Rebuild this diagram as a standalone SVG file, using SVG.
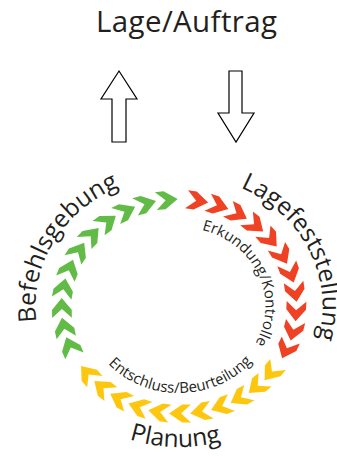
<svg xmlns="http://www.w3.org/2000/svg" width="337" height="457" viewBox="0 0 337 457">
<style>
.t{font-family:"Open Sans","Noto Sans","Liberation Sans",sans-serif;fill:#231f20}
.big{font-size:24.5px}
.small{font-size:15px}
.arr{fill:#fff;stroke:#000;stroke-width:1.2}
.g{fill:#62bb46}.r{fill:#ef4123}.y{fill:#fec70f}
</style>
<defs>
<polygon id="chev" points="9,-10 9,-2 0,10 -9,-2 -9,-10 0,-1"/>
<path id="pBef" d="M56.9,374.8 A143.5,131 0 0 1 174.7,175.1"/>
<path id="pLag" d="M193,175.6 A143.5,131 0 0 1 295.7,382.3"/>
<path id="pPlan" d="M77,411.6 A154,141 0 0 0 274.9,416.3"/>
<path id="pErk" d="M189.5,227.6 A86.5,79 0 0 1 248.1,353.5"/>
<path id="pEnt" d="M97.6,350.8 A95,87 0 0 0 262.1,348.2"/>
</defs>
<rect width="337" height="457" fill="#fff"/>
<g id="title"><text class="t" x="186.5" y="32" font-size="29.5" text-anchor="middle" textLength="181">Lage/Auftrag</text></g>
<g id="connectors">
<polygon class="arr" points="119,71 137,99 126,99 126,142 112,142 112,99 101,99"/>
<polygon class="arr" points="229,71 242,71 242,113 254,113 236,142 218,113 229,113"/>
</g>
<g id="befehlsgebung">
<g class="g" transform="translate(179,306.5) scale(1.095,1)">
<use href="#chev" transform="rotate(158) translate(107,0)"/>
<use href="#chev" transform="rotate(168.6) translate(107,0)"/>
<use href="#chev" transform="rotate(179.2) translate(107,0)"/>
<use href="#chev" transform="rotate(189.8) translate(107,0)"/>
<use href="#chev" transform="rotate(200.4) translate(107,0)"/>
<use href="#chev" transform="rotate(211) translate(107,0)"/>
<use href="#chev" transform="rotate(221.6) translate(107,0)"/>
<use href="#chev" transform="rotate(232.2) translate(107,0)"/>
<use href="#chev" transform="rotate(242.8) translate(107,0)"/>
<use href="#chev" transform="rotate(253.4) translate(107,0)"/>
<use href="#chev" transform="rotate(264) translate(107,0)"/>
</g>
<text class="t big"><textPath href="#pBef" startOffset="50%" text-anchor="middle">Befehlsgebung</textPath></text>
</g>
<g id="lagefeststellung">
<g class="r" transform="translate(179,306.5) scale(1.095,1)">
<use href="#chev" transform="rotate(279) translate(107,0)"/>
<use href="#chev" transform="rotate(289.45) translate(107,0)"/>
<use href="#chev" transform="rotate(299.9) translate(107,0)"/>
<use href="#chev" transform="rotate(310.35) translate(107,0)"/>
<use href="#chev" transform="rotate(320.8) translate(107,0)"/>
<use href="#chev" transform="rotate(331.25) translate(107,0)"/>
<use href="#chev" transform="rotate(341.7) translate(107,0)"/>
<use href="#chev" transform="rotate(352.15) translate(107,0)"/>
<use href="#chev" transform="rotate(362.6) translate(107,0)"/>
<use href="#chev" transform="rotate(373.05) translate(107,0)"/>
<use href="#chev" transform="rotate(383.5) translate(107,0)"/>
</g>
<text class="t big"><textPath href="#pLag" startOffset="50%" text-anchor="middle">Lagefeststellung</textPath></text>
<text class="t small"><textPath href="#pErk" startOffset="50%" text-anchor="middle">Erkundung/Kontrolle</textPath></text>
</g>
<g id="planung">
<g class="y" transform="translate(179,306.5) scale(1.095,1)">
<use href="#chev" transform="rotate(38) translate(107,0)"/>
<use href="#chev" transform="rotate(48.3) translate(107,0)"/>
<use href="#chev" transform="rotate(58.6) translate(107,0)"/>
<use href="#chev" transform="rotate(68.9) translate(107,0)"/>
<use href="#chev" transform="rotate(79.2) translate(107,0)"/>
<use href="#chev" transform="rotate(89.5) translate(107,0)"/>
<use href="#chev" transform="rotate(99.8) translate(107,0)"/>
<use href="#chev" transform="rotate(110.1) translate(107,0)"/>
<use href="#chev" transform="rotate(120.4) translate(107,0)"/>
<use href="#chev" transform="rotate(130.7) translate(107,0)"/>
<use href="#chev" transform="rotate(141) translate(107,0)"/>
</g>
<text class="t big"><textPath href="#pPlan" startOffset="50%" text-anchor="middle">Planung</textPath></text>
<text class="t small"><textPath href="#pEnt" startOffset="50%" text-anchor="middle">Entschluss/Beurteilung</textPath></text>
</g>
</svg>
